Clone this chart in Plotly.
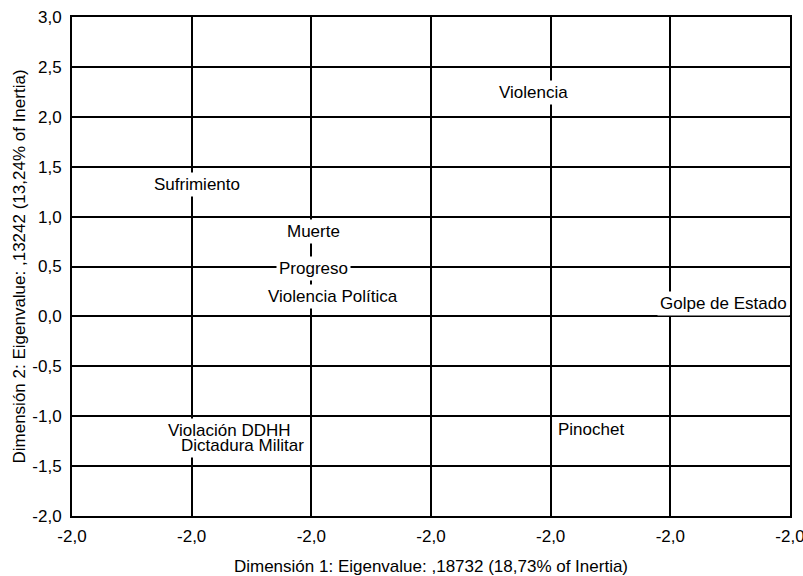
import plotly.graph_objects as go

# Tick labels as printed in the reference
x_tickvals = [-1.5, -1.0, -0.5, 0.0, 0.5, 1.0, 1.5]
x_ticktext = ["-2,0", "-2,0", "-2,0", "-2,0", "-2,0", "-2,0", "-2,0"]
y_tickvals = [-2.0, -1.5, -1.0, -0.5, 0.0, 0.5, 1.0, 1.5, 2.0, 2.5, 3.0]
y_ticktext = ["-2,0", "-1,5", "-1,0", "-0,5", "0,0", "0,5", "1,0", "1,5", "2,0", "2,5", "3,0"]

# Category points (dimension 1, dimension 2)
labels = ["Violencia", "Sufrimiento", "Muerte", "Progreso", "Violencia Política",
          "Golpe de Estado", "Pinochet", "Violación DDHH", "Dictadura Militar"]
dim1 = [0.430, -0.976, -0.493, -0.489, -0.409, 1.224, 0.668, -0.840, -0.789]
dim2 = [2.243, 1.322, 0.852, 0.475, 0.204, 0.134, -1.138, -1.148, -1.293]

FONT = "Liberation Sans, Arial, sans-serif"
FS = 17

fig = go.Figure()
fig.add_trace(go.Scatter(x=dim1, y=dim2, mode="markers",
                         marker=dict(size=1, color="rgba(0,0,0,0)"),
                         hoverinfo="skip", showlegend=False))

annotations = []
# background boxes first
for lab, xv, yv in zip(labels, dim1, dim2):
    annotations.append(dict(x=xv, y=yv, xref="x", yref="y", text=lab, showarrow=False,
                            xanchor="center", yanchor="middle",
                            font=dict(family=FONT, size=FS, color="white"),
                            bgcolor="white", borderpad=2))
# texts on top
for lab, xv, yv in zip(labels, dim1, dim2):
    annotations.append(dict(x=xv, y=yv, xref="x", yref="y", text=lab, showarrow=False,
                            xanchor="center", yanchor="middle",
                            font=dict(family=FONT, size=FS, color="black"),
                            borderpad=2))

fig.update_layout(
    width=803, height=576,
    margin=dict(l=72, r=13, t=17, b=60),
    paper_bgcolor="white", plot_bgcolor="white",
    font=dict(family=FONT, size=FS, color="black"),
    showlegend=False,
    annotations=annotations,
)
fig.update_xaxes(range=[-1.5, 1.5], tickvals=x_tickvals, ticktext=x_ticktext,
                 showgrid=True, gridcolor="black", gridwidth=2, zeroline=False,
                 showline=True, linecolor="black", linewidth=2, mirror=True,
                 ticks="", ticklabelstandoff=4, automargin=False,
                 ticklabeloverflow="allow",
                 title=dict(text="Dimensión 1: Eigenvalue: ,18732 (18,73% of Inertia)",
                            font=dict(family=FONT, size=FS), standoff=27))
fig.update_yaxes(range=[-2.0, 3.0], tickvals=y_tickvals, ticktext=y_ticktext,
                 showgrid=True, gridcolor="black", gridwidth=2, zeroline=False,
                 showline=True, linecolor="black", linewidth=2, mirror=True,
                 ticks="", ticklabelstandoff=5, automargin=False,
                 title=dict(text="Dimensión 2: Eigenvalue: ,13242 (13,24% of Inertia)",
                            font=dict(family=FONT, size=FS), standoff=2))

fig.write_html("out.html", config={"displayModeBar": False},
               post_script="document.body.style.margin='0';")
